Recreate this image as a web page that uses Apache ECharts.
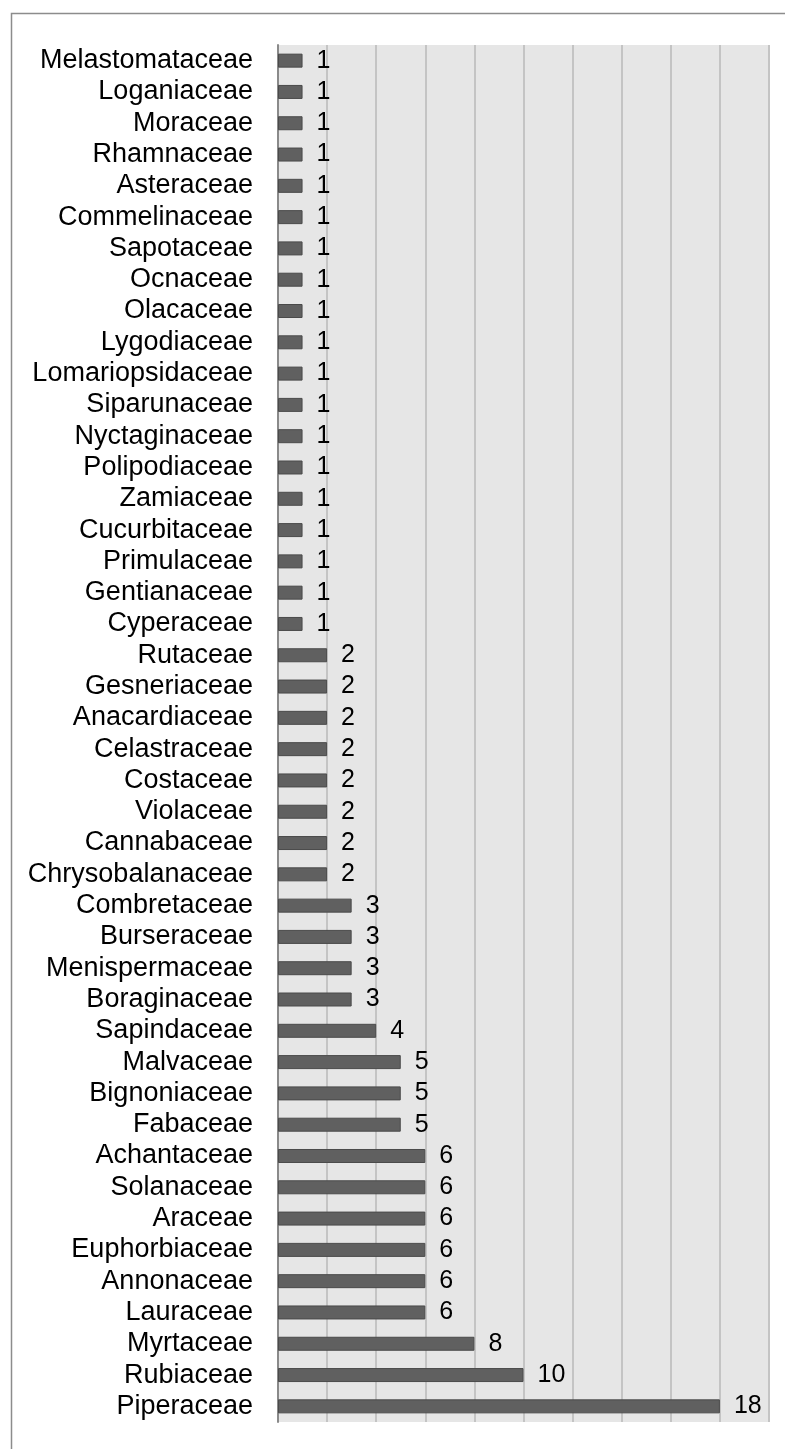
<!DOCTYPE html>
<html>
<head>
<meta charset="utf-8">
<script src="https://cdn.jsdelivr.net/npm/echarts@6/dist/echarts.min.js"></script>
<style>
  html, body { margin: 0; padding: 0; background: #ffffff; }
  #chart { width: 785px; height: 1449px; }
</style>
</head>
<body>
<div id="chart"></div>
<script>
// Plant families and number of species per family
const families = [
  'Melastomataceae', 'Loganiaceae', 'Moraceae', 'Rhamnaceae', 'Asteraceae',
  'Commelinaceae', 'Sapotaceae', 'Ocnaceae', 'Olacaceae', 'Lygodiaceae',
  'Lomariopsidaceae', 'Siparunaceae', 'Nyctaginaceae', 'Polipodiaceae', 'Zamiaceae',
  'Cucurbitaceae', 'Primulaceae', 'Gentianaceae', 'Cyperaceae', 'Rutaceae',
  'Gesneriaceae', 'Anacardiaceae', 'Celastraceae', 'Costaceae', 'Violaceae',
  'Cannabaceae', 'Chrysobalanaceae', 'Combretaceae', 'Burseraceae', 'Menispermaceae',
  'Boraginaceae', 'Sapindaceae', 'Malvaceae', 'Bignoniaceae', 'Fabaceae',
  'Achantaceae', 'Solanaceae', 'Araceae', 'Euphorbiaceae', 'Annonaceae',
  'Lauraceae', 'Myrtaceae', 'Rubiaceae', 'Piperaceae'
];
const speciesCount = [
  1, 1, 1, 1, 1,
  1, 1, 1, 1, 1,
  1, 1, 1, 1, 1,
  1, 1, 1, 1, 2,
  2, 2, 2, 2, 2,
  2, 2, 3, 3, 3,
  3, 4, 5, 5, 5,
  6, 6, 6, 6, 6,
  6, 8, 10, 18
];
const axisMax = 20;
const axisStep = 2;

const FONT = "'Liberation Sans', Arial, sans-serif";
const chart = echarts.init(document.getElementById('chart'), null, { renderer: 'canvas' });

chart.setOption({
  backgroundColor: '#ffffff',
  animation: false,
  graphic: [{
    type: 'rect',
    left: 9, top: 11,
    shape: { width: 900, height: 1600 },
    style: { fill: 'none', stroke: '#8c8c8c', lineWidth: 1.5 },
    silent: true, z: -1
  }],
  grid: {
    left: 278, right: 16, top: 45, bottom: 27,
    show: true, backgroundColor: '#e6e6e6', borderWidth: 0
  },
  xAxis: {
    type: 'value', min: 0, max: axisMax, interval: axisStep,
    axisLine: { show: false }, axisTick: { show: false }, axisLabel: { show: false },
    splitLine: { show: true, lineStyle: { color: '#c4c4c4', width: 2 } }
  },
  yAxis: {
    type: 'category', data: families, inverse: true,
    axisLine: { show: true, lineStyle: { color: '#8a8a8a', width: 2 } },
    axisTick: { show: false },
    axisLabel: { interval: 0, color: '#000000', fontFamily: FONT, fontSize: 27, margin: 25 },
    splitLine: { show: false }
  },
  series: [{
    type: 'bar',
    data: speciesCount,
    barWidth: 14,
    itemStyle: { color: '#606060', borderColor: '#4a4a4a', borderWidth: 1 },
    label: {
      show: true, position: 'right', distance: 14,
      color: '#000000', fontFamily: FONT, fontSize: 25
    }
  }]
});
</script>
</body>
</html>
